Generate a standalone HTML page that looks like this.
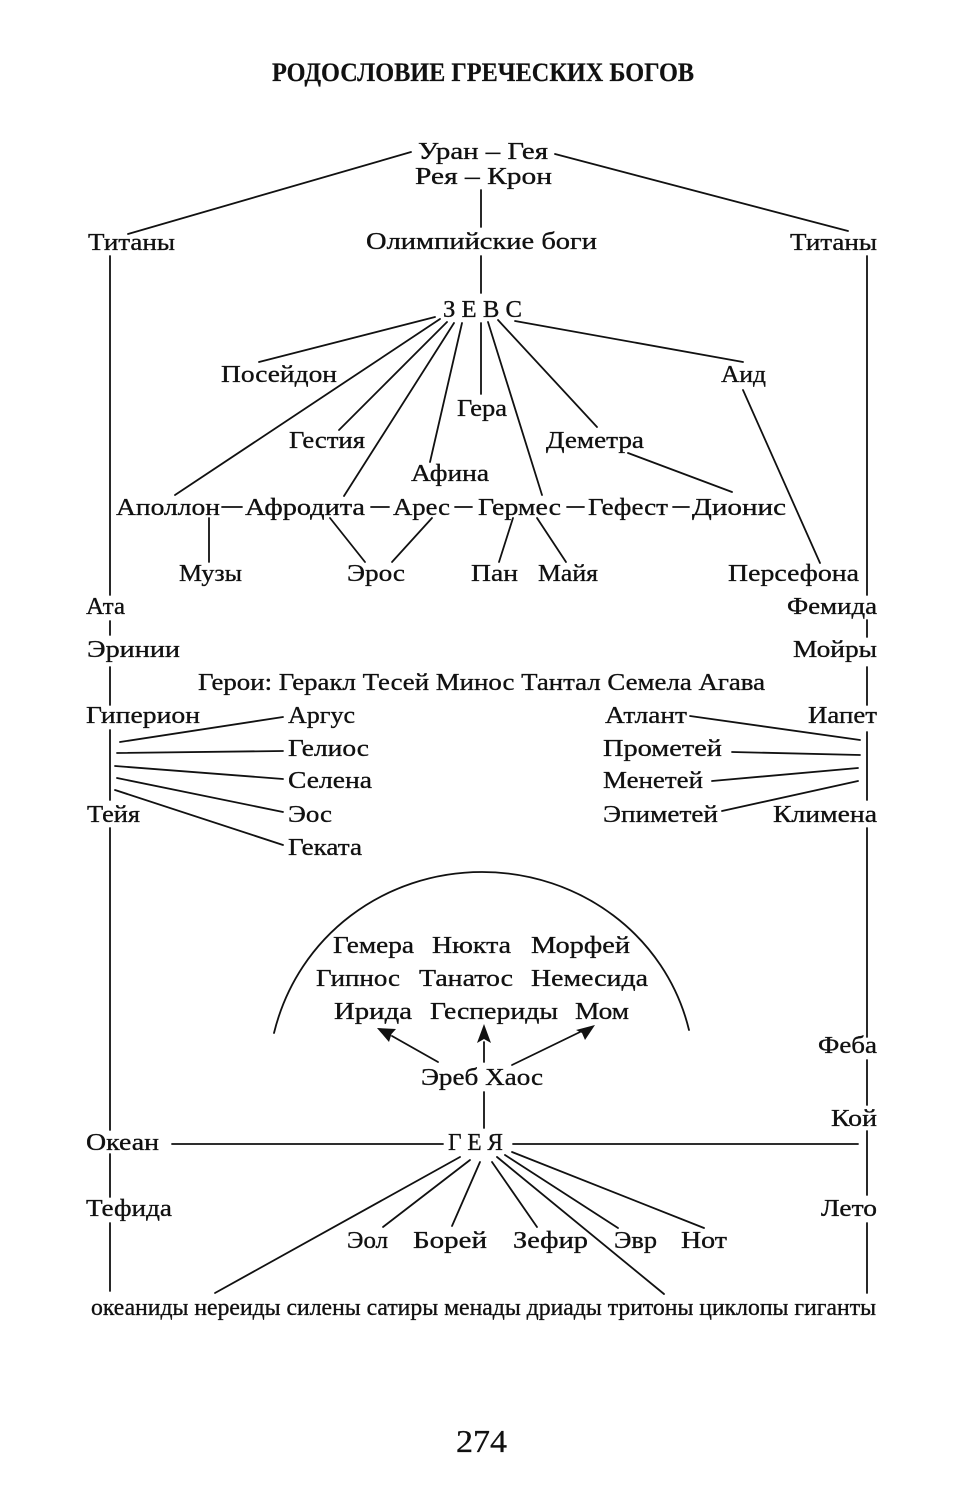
<!DOCTYPE html>
<html>
<head>
<meta charset="utf-8">
<style>
html,body{margin:0;padding:0;background:#fff;}
svg{display:block;}
text{font-family:"Liberation Serif","DejaVu Serif",serif;fill:#111;font-size:24.5px;stroke:#111;stroke-width:0.35;}
.t{font-weight:bold;font-size:26px;stroke-width:0.2;}
.b{font-size:24px;}
.p{font-size:32px;stroke-width:0.3;}
line,path.l{stroke:#111;stroke-width:1.8;fill:none;stroke-linecap:round;}
</style>
</head>
<body>
<svg width="962" height="1500" viewBox="0 0 962 1500" xmlns="http://www.w3.org/2000/svg">
<rect width="962" height="1500" fill="#fff"/>

<!-- Title -->
<text class="t" x="272" y="81" textLength="422" lengthAdjust="spacingAndGlyphs">РОДОСЛОВИЕ ГРЕЧЕСКИХ БОГОВ</text>

<!-- Top -->
<text x="418" y="159" textLength="130" lengthAdjust="spacingAndGlyphs">Уран – Гея</text>
<text x="415" y="184" textLength="137" lengthAdjust="spacingAndGlyphs">Рея – Крон</text>
<text x="88" y="250" textLength="87" lengthAdjust="spacingAndGlyphs">Титаны</text>
<text x="366" y="249" textLength="231" lengthAdjust="spacingAndGlyphs">Олимпийские боги</text>
<text x="790" y="250" textLength="87" lengthAdjust="spacingAndGlyphs">Титаны</text>
<text x="443" y="317" textLength="79" lengthAdjust="spacingAndGlyphs">З Е В С</text>

<line x1="411" y1="152" x2="128" y2="234"/>
<line x1="555" y1="154" x2="848" y2="231"/>
<line x1="481" y1="190" x2="481" y2="227"/>
<line x1="481" y1="256" x2="481" y2="293"/>

<!-- Zeus children -->
<text x="221" y="382" textLength="116" lengthAdjust="spacingAndGlyphs">Посейдон</text>
<text x="721" y="382" textLength="45" lengthAdjust="spacingAndGlyphs">Аид</text>
<text x="457" y="416" textLength="50" lengthAdjust="spacingAndGlyphs">Гера</text>
<text x="289" y="448" textLength="76" lengthAdjust="spacingAndGlyphs">Гестия</text>
<text x="546" y="448" textLength="98" lengthAdjust="spacingAndGlyphs">Деметра</text>
<text x="411" y="481" textLength="78" lengthAdjust="spacingAndGlyphs">Афина</text>

<text x="116" y="515" textLength="104" lengthAdjust="spacingAndGlyphs">Аполлон</text>
<text x="245" y="515" textLength="120" lengthAdjust="spacingAndGlyphs">Афродита</text>
<text x="393" y="515" textLength="57" lengthAdjust="spacingAndGlyphs">Арес</text>
<text x="478" y="515" textLength="83" lengthAdjust="spacingAndGlyphs">Гермес</text>
<text x="588" y="515" textLength="80" lengthAdjust="spacingAndGlyphs">Гефест</text>
<text x="692" y="515" textLength="94" lengthAdjust="spacingAndGlyphs">Дионис</text>
<line x1="222" y1="507" x2="242" y2="507"/>
<line x1="371" y1="507" x2="389" y2="507"/>
<line x1="455" y1="507" x2="472" y2="507"/>
<line x1="567" y1="507" x2="584" y2="507"/>
<line x1="673" y1="507" x2="689" y2="507"/>

<text x="179" y="581" textLength="63" lengthAdjust="spacingAndGlyphs">Музы</text>
<text x="347" y="581" textLength="58" lengthAdjust="spacingAndGlyphs">Эрос</text>
<text x="471" y="581" textLength="47" lengthAdjust="spacingAndGlyphs">Пан</text>
<text x="538" y="581" textLength="60" lengthAdjust="spacingAndGlyphs">Майя</text>
<text x="728" y="581" textLength="131" lengthAdjust="spacingAndGlyphs">Персефона</text>

<line x1="435" y1="317" x2="259" y2="362"/>
<line x1="440" y1="319" x2="175" y2="495"/>
<line x1="447" y1="322" x2="339" y2="430"/>
<line x1="454" y1="323" x2="344" y2="496"/>
<line x1="462" y1="323" x2="430" y2="462"/>
<line x1="481" y1="323" x2="481" y2="394"/>
<line x1="488" y1="322" x2="542" y2="495"/>
<line x1="498" y1="320" x2="597" y2="427"/>
<line x1="515" y1="321" x2="743" y2="362"/>
<line x1="743" y1="390" x2="820" y2="563"/>
<line x1="628" y1="453" x2="732" y2="492"/>
<line x1="209" y1="518" x2="209" y2="562"/>
<line x1="330" y1="518" x2="365" y2="562"/>
<line x1="432" y1="518" x2="392" y2="562"/>
<line x1="513" y1="518" x2="499" y2="562"/>
<line x1="537" y1="518" x2="566" y2="562"/>

<!-- Side columns -->
<text x="86" y="614" textLength="39" lengthAdjust="spacingAndGlyphs">Ата</text>
<text x="787" y="614" textLength="90" lengthAdjust="spacingAndGlyphs">Фемида</text>
<text x="87" y="657" textLength="93" lengthAdjust="spacingAndGlyphs">Эринии</text>
<text x="793" y="657" textLength="84" lengthAdjust="spacingAndGlyphs">Мойры</text>
<text x="198" y="690" textLength="567" lengthAdjust="spacingAndGlyphs">Герои: Геракл Тесей Минос Тантал Семела Агава</text>

<text x="86" y="723" textLength="114" lengthAdjust="spacingAndGlyphs">Гиперион</text>
<text x="288" y="723" textLength="67" lengthAdjust="spacingAndGlyphs">Аргус</text>
<text x="605" y="723" textLength="82" lengthAdjust="spacingAndGlyphs">Атлант</text>
<text x="808" y="723" textLength="69" lengthAdjust="spacingAndGlyphs">Иапет</text>
<text x="288" y="756" textLength="81" lengthAdjust="spacingAndGlyphs">Гелиос</text>
<text x="603" y="756" textLength="119" lengthAdjust="spacingAndGlyphs">Прометей</text>
<text x="288" y="788" textLength="84" lengthAdjust="spacingAndGlyphs">Селена</text>
<text x="603" y="788" textLength="100" lengthAdjust="spacingAndGlyphs">Менетей</text>
<text x="87" y="822" textLength="53" lengthAdjust="spacingAndGlyphs">Тейя</text>
<text x="288" y="822" textLength="44" lengthAdjust="spacingAndGlyphs">Эос</text>
<text x="603" y="822" textLength="115" lengthAdjust="spacingAndGlyphs">Эпиметей</text>
<text x="773" y="822" textLength="104" lengthAdjust="spacingAndGlyphs">Климена</text>
<text x="288" y="855" textLength="74" lengthAdjust="spacingAndGlyphs">Геката</text>

<line x1="120" y1="742" x2="283" y2="717"/>
<line x1="117" y1="753" x2="283" y2="751"/>
<line x1="115" y1="766" x2="283" y2="779"/>
<line x1="117" y1="778" x2="283" y2="812"/>
<line x1="115" y1="790" x2="283" y2="845"/>
<line x1="690" y1="716" x2="860" y2="740"/>
<line x1="732" y1="752" x2="860" y2="755"/>
<line x1="712" y1="781" x2="858" y2="768"/>
<line x1="722" y1="811" x2="858" y2="781"/>

<!-- Left vertical -->
<line x1="110" y1="256" x2="110" y2="595"/>
<line x1="110" y1="621" x2="110" y2="635"/>
<line x1="110" y1="667" x2="110" y2="705"/>
<line x1="110" y1="730" x2="110" y2="800"/>
<line x1="110" y1="828" x2="110" y2="1130"/>
<line x1="110" y1="1154" x2="110" y2="1197"/>
<line x1="110" y1="1223" x2="110" y2="1291"/>
<!-- Right vertical -->
<line x1="867" y1="256" x2="867" y2="595"/>
<line x1="867" y1="620" x2="867" y2="637"/>
<line x1="867" y1="667" x2="867" y2="705"/>
<line x1="867" y1="732" x2="867" y2="800"/>
<line x1="867" y1="828" x2="867" y2="1037"/>
<line x1="867" y1="1060" x2="867" y2="1105"/>
<line x1="867" y1="1131" x2="867" y2="1195"/>
<line x1="867" y1="1223" x2="867" y2="1293"/>

<!-- Arc -->
<path class="l" d="M274,1033 C298,935 385,872 482,872 C579,872 666,935 689,1030"/>
<text x="333" y="953" textLength="81" lengthAdjust="spacingAndGlyphs">Гемера</text>
<text x="432" y="953" textLength="79" lengthAdjust="spacingAndGlyphs">Нюкта</text>
<text x="531" y="953" textLength="99" lengthAdjust="spacingAndGlyphs">Морфей</text>
<text x="316" y="986" textLength="84" lengthAdjust="spacingAndGlyphs">Гипнос</text>
<text x="419" y="986" textLength="94" lengthAdjust="spacingAndGlyphs">Танатос</text>
<text x="531" y="986" textLength="117" lengthAdjust="spacingAndGlyphs">Немесида</text>
<text x="334" y="1019" textLength="78" lengthAdjust="spacingAndGlyphs">Ирида</text>
<text x="430" y="1019" textLength="128" lengthAdjust="spacingAndGlyphs">Геспериды</text>
<text x="575" y="1019" textLength="54" lengthAdjust="spacingAndGlyphs">Мом</text>

<!-- Arrows -->
<line x1="438" y1="1062" x2="392" y2="1036"/>
<polygon points="377,1028 396,1029 391.5,1034 389,1042" fill="#111"/>
<line x1="484" y1="1062" x2="484" y2="1042"/>
<polygon points="484,1024 491,1043 484,1039 477,1043" fill="#111"/>
<line x1="512" y1="1065" x2="580" y2="1032"/>
<polygon points="595,1025 585,1040 582,1033 576,1030" fill="#111"/>

<text x="818" y="1053" textLength="59" lengthAdjust="spacingAndGlyphs">Феба</text>
<text x="421" y="1085" textLength="122" lengthAdjust="spacingAndGlyphs">Эреб Хаос</text>
<line x1="484" y1="1092" x2="484" y2="1128"/>
<text x="831" y="1126" textLength="46" lengthAdjust="spacingAndGlyphs">Кой</text>

<text x="86" y="1150" textLength="73" lengthAdjust="spacingAndGlyphs">Океан</text>
<text x="448" y="1150" textLength="55" lengthAdjust="spacingAndGlyphs">Г Е Я</text>
<line x1="172" y1="1144" x2="443" y2="1144"/>
<line x1="513" y1="1144" x2="858" y2="1144"/>

<text x="86" y="1216" textLength="86" lengthAdjust="spacingAndGlyphs">Тефида</text>
<text x="821" y="1216" textLength="56" lengthAdjust="spacingAndGlyphs">Лето</text>

<text x="347" y="1248" textLength="41" lengthAdjust="spacingAndGlyphs">Эол</text>
<text x="413" y="1248" textLength="74" lengthAdjust="spacingAndGlyphs">Борей</text>
<text x="513" y="1248" textLength="75" lengthAdjust="spacingAndGlyphs">Зефир</text>
<text x="614" y="1248" textLength="43" lengthAdjust="spacingAndGlyphs">Эвр</text>
<text x="681" y="1248" textLength="46" lengthAdjust="spacingAndGlyphs">Нот</text>

<line x1="460" y1="1157" x2="215" y2="1293"/>
<line x1="470" y1="1160" x2="383" y2="1227"/>
<line x1="480" y1="1162" x2="452" y2="1226"/>
<line x1="492" y1="1162" x2="537" y2="1227"/>
<line x1="497" y1="1157" x2="664" y2="1294"/>
<line x1="505" y1="1155" x2="618" y2="1228"/>
<line x1="512" y1="1152" x2="704" y2="1228"/>

<text class="b" x="91" y="1315" textLength="785" lengthAdjust="spacingAndGlyphs">океаниды нереиды силены сатиры менады дриады тритоны циклопы гиганты</text>

<text class="p" x="456" y="1452" textLength="51" lengthAdjust="spacingAndGlyphs">274</text>
</svg>
</body>
</html>
